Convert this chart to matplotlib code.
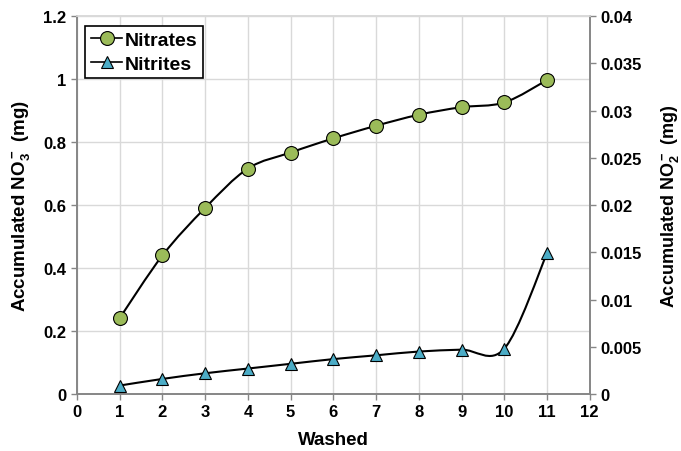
import matplotlib
matplotlib.use("Agg")
import matplotlib.pyplot as plt
from matplotlib.path import Path
from matplotlib.patches import PathPatch
from matplotlib.lines import Line2D

plt.rcParams["font.family"] = ["Liberation Sans", "DejaVu Sans"]
plt.rcParams["font.weight"] = "bold"
plt.rcParams["mathtext.fontset"] = "custom"
plt.rcParams["mathtext.rm"] = "Liberation Sans:bold"
plt.rcParams["mathtext.bf"] = "Liberation Sans:bold"
plt.rcParams["mathtext.default"] = "bf"

washed = [1, 2, 3, 4, 5, 6, 7, 8, 9, 10, 11]
nitrates = [0.241, 0.440, 0.591, 0.716, 0.767, 0.812, 0.852, 0.887, 0.911, 0.926, 0.997]
nitrites = [0.0009, 0.0016, 0.0022, 0.0027, 0.0032, 0.0037, 0.0041, 0.0045, 0.0047, 0.0048, 0.0149]

x_ticks = list(range(0, 13))
left_ticks = [0, 0.2, 0.4, 0.6, 0.8, 1, 1.2]
right_ticks = [0, 0.005, 0.01, 0.015, 0.02, 0.025, 0.03, 0.035, 0.04]

green = "#9BBB59"
blue = "#4BACC6"
spine_grey = "#868686"
grid_grey = "#D9D9D9"


def smooth_path(xs, ys):
    # Catmull-Rom style cubic Bezier through every point
    verts = [(xs[0], ys[0])]
    codes = [Path.MOVETO]
    n = len(xs)
    for i in range(n - 1):
        x0, y0 = (xs[i - 1], ys[i - 1]) if i > 0 else (xs[i], ys[i])
        x1, y1 = xs[i], ys[i]
        x2, y2 = xs[i + 1], ys[i + 1]
        x3, y3 = (xs[i + 2], ys[i + 2]) if i + 2 < n else (x2, y2)
        c1 = (x1 + (x2 - x0) / 6, y1 + (y2 - y0) / 6)
        c2 = (x2 - (x3 - x1) / 6, y2 - (y3 - y1) / 6)
        verts += [c1, c2, (x2, y2)]
        codes += [Path.CURVE4] * 3
    return Path(verts, codes)


fig = plt.figure(figsize=(6.81, 4.52), dpi=100)
ax = fig.add_axes([0.113, 0.126, 0.753, 0.836])
ax2 = ax.twinx()

ax.set_xlim(0, 12)
ax.set_ylim(0, 1.2)
ax2.set_ylim(0, 0.04)

ax.set_xticks(x_ticks)
ax.set_yticks(left_ticks)
ax.set_yticklabels(["0", "0.2", "0.4", "0.6", "0.8", "1", "1.2"])
ax2.set_yticks(right_ticks)
ax2.set_yticklabels(["0", "0.005", "0.01", "0.015", "0.02", "0.025", "0.03", "0.035", "0.04"])

ax.grid(True, color=grid_grey, linewidth=1)
ax.set_axisbelow(True)

for a in (ax, ax2):
    for s in a.spines.values():
        s.set_color(spine_grey)
        s.set_linewidth(1.2)
    a.spines["top"].set_color(grid_grey)
    a.tick_params(labelsize=12, color=spine_grey, length=4, width=1)

ax.add_patch(PathPatch(smooth_path(washed, nitrates), fill=False, edgecolor="black", lw=1.5, zorder=3))
ax.plot(washed, nitrates, linestyle="none", marker="o", markersize=10,
        markerfacecolor=green, markeredgecolor="black", markeredgewidth=0.8, zorder=4)

ax2.add_patch(PathPatch(smooth_path(washed, nitrites), fill=False, edgecolor="black", lw=1.5, zorder=3))
ax2.plot(washed, nitrites, linestyle="none", marker="^", markersize=9,
         markerfacecolor=blue, markeredgecolor="black", markeredgewidth=0.8, zorder=4)

ax.set_xlabel("Washed", fontsize=13.5, fontweight="bold", labelpad=8)
ax.set_ylabel("Accumulated NO$_3^-$ (mg)", fontsize=13.5, fontweight="bold", labelpad=8)
ax2.set_ylabel("Accumulated NO$_2^-$ (mg)", fontsize=13, fontweight="bold")
ax2.yaxis.set_label_coords(1.135, 0.5)

handles = [
    Line2D([], [], color="black", lw=1.2, marker="o", markersize=10,
           markerfacecolor=green, markeredgecolor="black", markeredgewidth=0.8),
    Line2D([], [], color="black", lw=1.2, marker="^", markersize=9,
           markerfacecolor=blue, markeredgecolor="black", markeredgewidth=0.8),
]
leg = ax2.legend(handles, ["Nitrates", "Nitrites"], loc="upper left",
                 bbox_to_anchor=(0.009, 0.985), prop={"size": 14, "weight": "bold"},
                 fancybox=False, framealpha=1, edgecolor="black",
                 handlelength=1.6, handletextpad=0.1, borderpad=0.3,
                 labelspacing=0.3, borderaxespad=0.2)
leg.get_frame().set_linewidth(1.2)

fig.savefig("out.png", dpi=100)
